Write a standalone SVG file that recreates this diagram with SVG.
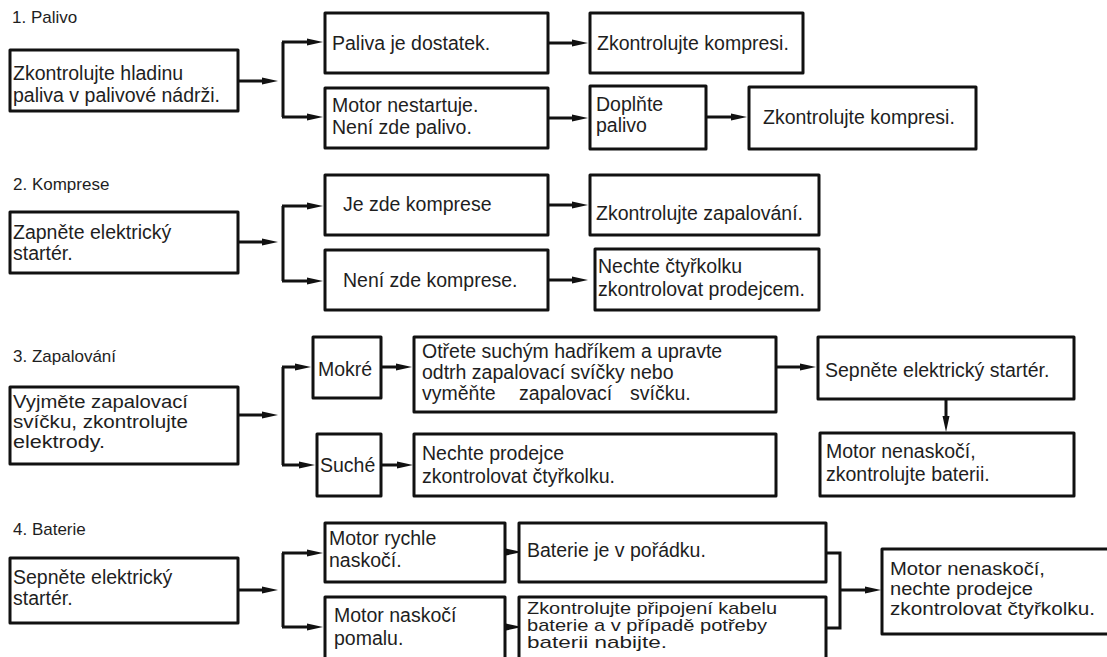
<svg xmlns="http://www.w3.org/2000/svg" width="1107" height="657" viewBox="0 0 1107 657">
<style>
.b{fill:#fff;stroke:#111;stroke-width:3;stroke-linejoin:round}
.t{font-family:"Liberation Sans",Arial,sans-serif;font-size:19.5px;fill:#1e1e1e}
.s{font-size:18px}
.h{font-family:"Liberation Sans",Arial,sans-serif;font-size:17px;fill:#1e1e1e}
.c{fill:none;stroke:#111;stroke-width:3}
.a{fill:none;stroke:#111;stroke-width:3;marker-end:url(#ah)}
</style>
<defs>
<marker id="ah" markerUnits="userSpaceOnUse" markerWidth="17" markerHeight="8" refX="0" refY="4" orient="auto">
<path d="M0,0.5 L16,4 L0,7.5 Z" fill="#111"/>
</marker>
</defs>
<rect width="1107" height="657" fill="#fff"/>
<g id="titles">
<text class="h" x="12" y="23">1. Palivo</text>
<text class="h" x="13" y="190">2. Komprese</text>
<text class="h" x="13" y="362">3. Zapalování</text>
<text class="h" x="13" y="535">4. Baterie</text>
</g>
<g id="connectors">
<path class="a" d="M238,81 H262"/>
<path class="c" d="M283,42 V117"/>
<path class="a" d="M282,42 H307"/>
<path class="a" d="M282,117 H307"/>
<path class="a" d="M548,43 H572"/>
<path class="a" d="M548,118 H572"/>
<path class="a" d="M706,117 H731"/>
<path class="a" d="M238,242 H262"/>
<path class="c" d="M283,206 V281"/>
<path class="a" d="M282,206 H307"/>
<path class="a" d="M282,281 H307"/>
<path class="a" d="M548,205 H572"/>
<path class="a" d="M548,280 H572"/>
<path class="a" d="M238,415 H262"/>
<path class="c" d="M283,367 V465"/>
<path class="a" d="M282,367 H295"/>
<path class="a" d="M282,465 H299"/>
<path class="a" d="M381,367 H396"/>
<path class="a" d="M381,465 H397"/>
<path class="a" d="M776,367 H800"/>
<path class="a" d="M946,399 V416"/>
<path class="a" d="M238,590 H262"/>
<path class="c" d="M283,553 V627"/>
<path class="a" d="M282,553 H307"/>
<path class="a" d="M282,627 H307"/>
<path class="a" d="M505,552 H506"/>
<path class="a" d="M505,627 H506"/>
<path class="c" d="M826,553 H840 V628 H826"/>
<path class="a" d="M840,590 H865"/>
</g>
<g id="n1a"><rect class="b" x="10" y="50" width="228" height="61"/><text class="t" x="13" y="80">Zkontrolujte hladinu</text><text class="t" x="13" y="102">paliva v palivové nádrži.</text></g>
<g id="n1b"><rect class="b" x="325" y="13" width="223" height="60"/><text class="t" x="332" y="50">Paliva je dostatek.</text></g>
<g id="n1c"><rect class="b" x="325" y="88" width="223" height="60"/><text class="t" x="332" y="112">Motor nestartuje.</text><text class="t" x="332" y="134">Není zde palivo.</text></g>
<g id="n1d"><rect class="b" x="590" y="13" width="213" height="60"/><text class="t" x="597" y="50">Zkontrolujte kompresi.</text></g>
<g id="n1e"><rect class="b" x="590" y="86" width="116" height="63"/><text class="t" x="596" y="111">Doplňte</text><text class="t" x="596" y="132">palivo</text></g>
<g id="n1f"><rect class="b" x="749" y="87" width="227" height="62"/><text class="t" x="763" y="124">Zkontrolujte kompresi.</text></g>
<g id="n2a"><rect class="b" x="10" y="212" width="228" height="61"/><text class="t" x="13" y="239">Zapněte elektrický</text><text class="t" x="13" y="260">startér.</text></g>
<g id="n2b"><rect class="b" x="325" y="175" width="223" height="60"/><text class="t" x="343" y="211">Je zde komprese</text></g>
<g id="n2c"><rect class="b" x="325" y="250" width="223" height="60"/><text class="t" x="343" y="287">Není zde komprese.</text></g>
<g id="n2d"><rect class="b" x="590" y="175" width="229" height="60"/><text class="t" x="596" y="220">Zkontrolujte zapalování.</text></g>
<g id="n2e"><rect class="b" x="595" y="249" width="224" height="61"/><text class="t" x="598" y="273">Nechte čtyřkolku</text><text class="t" x="598" y="296">zkontrolovat prodejcem.</text></g>
<g id="n3a"><rect class="b" x="10" y="387" width="228" height="77"/><text class="t s" x="13" y="408" textLength="175" lengthAdjust="spacingAndGlyphs">Vyjměte zapalovací</text><text class="t s" x="13" y="428" textLength="175" lengthAdjust="spacingAndGlyphs">svíčku, zkontrolujte</text><text class="t s" x="13" y="448" textLength="92" lengthAdjust="spacingAndGlyphs">elektrody.</text></g>
<g id="n3b"><rect class="b" x="313" y="337" width="68" height="61"/><text class="t" x="318" y="376">Mokré</text></g>
<g id="n3c"><rect class="b" x="317" y="434" width="64" height="62"/><text class="t" x="320" y="472">Suché</text></g>
<g id="n3d"><rect class="b" x="414" y="337" width="362" height="75"/><text class="t" x="422" y="358">Otřete suchým hadříkem a upravte</text><text class="t" x="422" y="379">odtrh zapalovací svíčky nebo</text><text class="t" y="400"><tspan x="422">vyměňte</tspan><tspan x="519">zapalovací</tspan><tspan x="630">svíčku.</tspan></text></g>
<g id="n3e"><rect class="b" x="414" y="434" width="362" height="62"/><text class="t" x="422" y="460">Nechte prodejce</text><text class="t" x="422" y="483">zkontrolovat čtyřkolku.</text></g>
<g id="n3f"><rect class="b" x="818" y="337" width="256" height="62"/><text class="t" x="825" y="377">Sepněte elektrický startér.</text></g>
<g id="n3g"><rect class="b" x="820" y="433" width="254" height="63"/><text class="t" x="826" y="458">Motor nenaskočí,</text><text class="t" x="826" y="481">zkontrolujte baterii.</text></g>
<g id="n4a"><rect class="b" x="10" y="558" width="228" height="65"/><text class="t" x="13" y="584">Sepněte elektrický</text><text class="t" x="13" y="605">startér.</text></g>
<g id="n4b"><rect class="b" x="325" y="523" width="180" height="59"/><text class="t" x="329" y="545">Motor rychle</text><text class="t" x="329" y="567">naskočí.</text></g>
<g id="n4c"><rect class="b" x="325" y="597" width="180" height="80"/><text class="t" x="334" y="622">Motor naskočí</text><text class="t" x="334" y="645">pomalu.</text></g>
<g id="n4d"><rect class="b" x="519" y="523" width="307" height="59"/><text class="t" x="527" y="557">Baterie je v pořádku.</text></g>
<g id="n4e"><rect class="b" x="519" y="597" width="307" height="80"/><text class="t" x="527" y="614" style="font-size:17px" textLength="250" lengthAdjust="spacingAndGlyphs">Zkontrolujte připojení kabelu</text><text class="t" x="527" y="631" style="font-size:17px" textLength="240" lengthAdjust="spacingAndGlyphs">baterie a v případě potřeby</text><text class="t" x="527" y="648" style="font-size:17px" textLength="140" lengthAdjust="spacingAndGlyphs">baterii nabijte.</text></g>
<g id="n4f"><rect class="b" x="882" y="549" width="240" height="85"/><text class="t s" x="890" y="575" textLength="155" lengthAdjust="spacingAndGlyphs">Motor nenaskočí,</text><text class="t s" x="890" y="595" textLength="143" lengthAdjust="spacingAndGlyphs">nechte prodejce</text><text class="t s" x="890" y="615" textLength="205" lengthAdjust="spacingAndGlyphs">zkontrolovat čtyřkolku.</text></g>
</svg>
